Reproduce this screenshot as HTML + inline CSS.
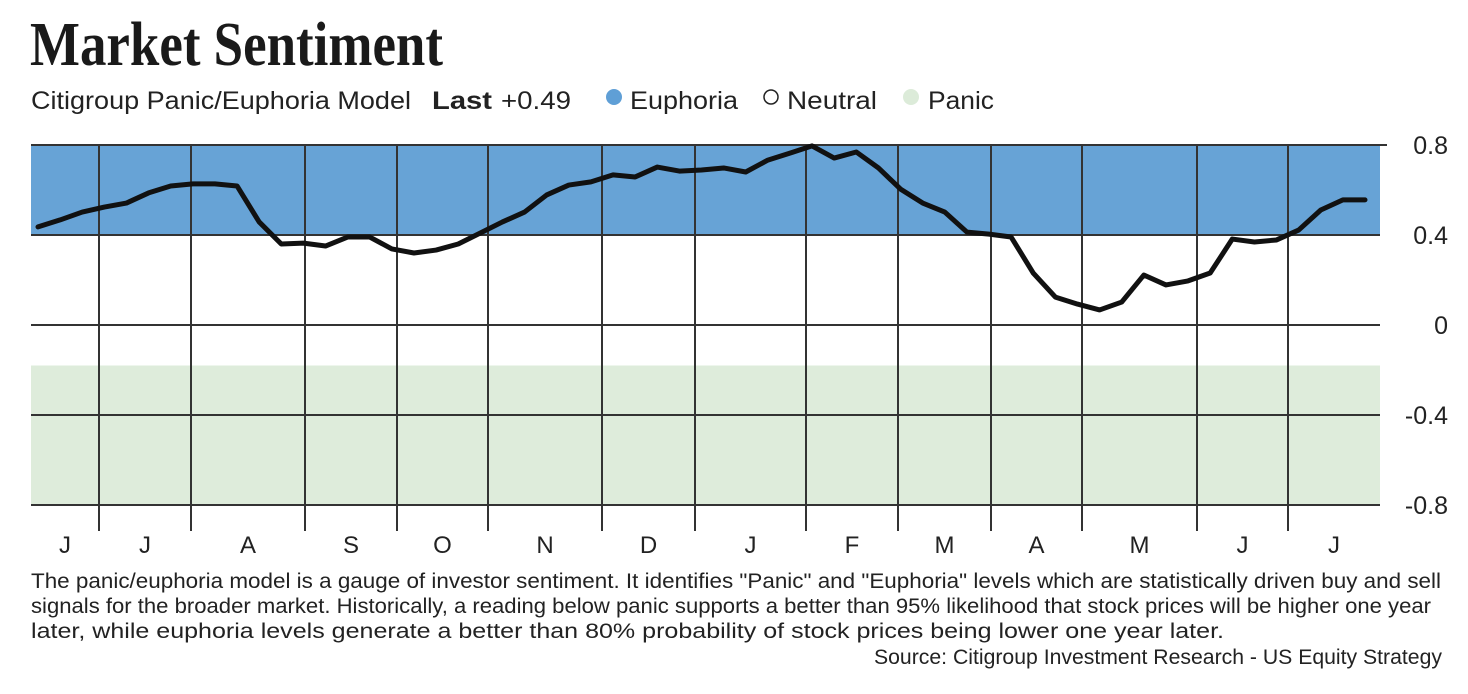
<!DOCTYPE html>
<html><head><meta charset="utf-8"><style>
body{margin:0;background:#fff;}
svg{display:block;font-family:"Liberation Sans",sans-serif;}
</style></head><body>
<svg id="chart" width="1468" height="694" viewBox="0 0 1468 694" xmlns="http://www.w3.org/2000/svg">
<text x="30" y="65" font-family="Liberation Serif,serif" font-weight="bold" font-size="62" textLength="413" lengthAdjust="spacingAndGlyphs" fill="#1a1a1a">Market Sentiment</text>
<g font-size="25" fill="#222">
<text x="31" y="109" textLength="380" lengthAdjust="spacingAndGlyphs">Citigroup Panic/Euphoria Model</text>
<text x="432" y="109" font-weight="bold" textLength="60" lengthAdjust="spacingAndGlyphs">Last</text>
<text x="501" y="109" textLength="70" lengthAdjust="spacingAndGlyphs">+0.49</text>
<circle cx="614" cy="97" r="8" fill="#5f9fd6"/>
<text x="630" y="109" textLength="108" lengthAdjust="spacingAndGlyphs">Euphoria</text>
<circle cx="771" cy="97" r="7" fill="#fff" stroke="#222" stroke-width="1.5"/>
<text x="787" y="109" textLength="90" lengthAdjust="spacingAndGlyphs">Neutral</text>
<circle cx="911" cy="97" r="8" fill="#dcebd9"/>
<text x="928" y="109" textLength="66" lengthAdjust="spacingAndGlyphs">Panic</text>
</g>
<g id="plot"></g>
<g font-size="21" fill="#222">
<text x="31" y="588" textLength="1410" lengthAdjust="spacingAndGlyphs">The panic/euphoria model is a gauge of investor sentiment. It identifies "Panic" and "Euphoria" levels which are statistically driven buy and sell</text>
<text x="31" y="613" textLength="1400" lengthAdjust="spacingAndGlyphs">signals for the broader market.  Historically, a reading below panic supports a better than 95% likelihood that stock prices will be higher one year</text>
<text x="31" y="638" textLength="1193" lengthAdjust="spacingAndGlyphs">later, while euphoria levels generate a better than 80% probability of stock prices being lower one year later.</text>
<text x="1442" y="664" text-anchor="end" textLength="568" lengthAdjust="spacingAndGlyphs">Source: Citigroup Investment Research - US Equity Strategy</text>
</g>
</svg>
<script>
const monthLabels=["J","J","A","S","O","N","D","J","F","M","A","M","J","J"];
const monthBoundaries=[0,68,160,274,366,457,571,664,775,867,960,1051,1166,1257,1349];
const yTicks=[0.8,0.4,0,-0.4,-0.8];
const yTickLabels=["0.8","0.4","0","-0.4","-0.8"];
const euphoriaBand=[0.4,0.8];
const panicBand=[-0.8,-0.18];
const values=[0.436,0.467,0.502,0.524,0.542,0.587,0.618,0.627,0.627,0.618,0.458,0.36,0.364,0.351,0.391,0.391,0.338,0.320,0.333,0.36,0.409,0.458,0.502,0.578,0.622,0.636,0.667,0.658,0.702,0.684,0.689,0.698,0.680,0.733,0.764,0.796,0.742,0.769,0.698,0.604,0.542,0.502,0.413,0.404,0.391,0.231,0.124,0.093,0.067,0.102,0.222,0.178,0.196,0.231,0.382,0.369,0.378,0.422,0.511,0.556,0.556];
const NS="http://www.w3.org/2000/svg";
const L=31,R=1380,T=145,B=505;
const y=v=>T+(0.8-v)/1.6*(B-T);
const xb=d=>L+d;
const xi=i=>38+i*(1327/(values.length-1));
const g=document.getElementById('plot');
function mk(t,a){const e=document.createElementNS(NS,t);for(const k in a)e.setAttribute(k,a[k]);g.appendChild(e);return e;}
let e=mk('rect',{x:L,y:y(euphoriaBand[1]),width:R-L,height:y(euphoriaBand[0])-y(euphoriaBand[1]),fill:'#67a3d6'});


e=mk('rect',{x:L,y:y(panicBand[1]),width:R-L,height:y(panicBand[0])-y(panicBand[1]),fill:'#deecdb'});


yTicks.forEach((v,i)=>{
 const l=mk('line',{x1:L,x2:i==0?1387:R,y1:y(v),y2:y(v),stroke:'#333','stroke-width':2});
 
 
 const t=mk('text',{x:1448,y:y(v)+9,'text-anchor':'end','font-size':25,fill:'#222'});
 t.textContent=yTickLabels[i];
 
 
});
monthBoundaries.forEach((d,i)=>{
 if(i==0||i==monthBoundaries.length-1)return;
 const l=mk('line',{x1:xb(d),x2:xb(d),y1:T,y2:531,stroke:'#333','stroke-width':2});
 
 
});
monthLabels.forEach((m,i)=>{
 const cx=(xb(monthBoundaries[i])+xb(monthBoundaries[i+1]))/2;
 const t=mk('text',{x:cx,y:553,'text-anchor':'middle','font-size':24,fill:'#222'});
 t.textContent=m;
 
 
});
const p=mk('polyline',{points:values.map((v,i)=>xi(i)+','+y(v)).join(' '),fill:'none',stroke:'#111','stroke-width':5,'stroke-linejoin':'round','stroke-linecap':'round'});


</script>
</body></html>
